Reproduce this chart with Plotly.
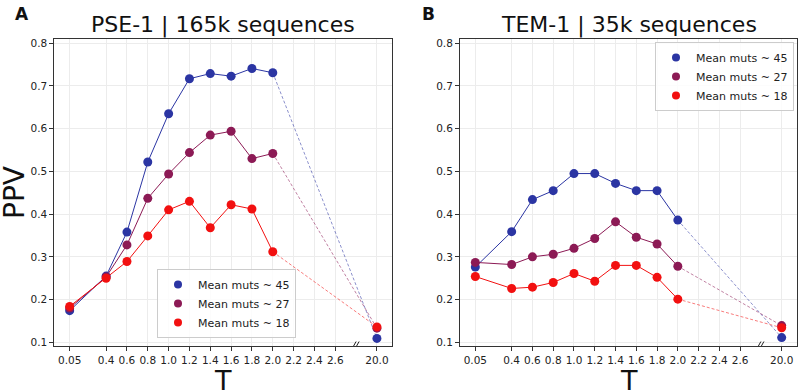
import plotly.graph_objects as go

# ---------------- data ----------------
T_values = [0.05, 0.4, 0.6, 0.8, 1.0, 1.2, 1.4, 1.6, 1.8, 2.0, 20.0]
tick_T = [0.05, 0.4, 0.6, 0.8, 1.0, 1.2, 1.4, 1.6, 1.8, 2.0, 2.2, 2.4, 2.6, 20.0]
tick_text = ["0.05", "0.4", "0.6", "0.8", "1.0", "1.2", "1.4", "1.6", "1.8", "2.0", "2.2", "2.4", "2.6", "20.0"]
y_ticks = [0.1, 0.2, 0.3, 0.4, 0.5, 0.6, 0.7, 0.8]

series_names = ["Mean muts ~ 45", "Mean muts ~ 27", "Mean muts ~ 18"]
series_colors = ["#2b35a3", "#8c1a55", "#f21010"]
series_dash_colors = ["rgba(43,53,163,0.55)", "rgba(140,26,85,0.55)", "rgba(242,16,16,0.55)"]

pse1_45 = [0.174, 0.255, 0.358, 0.522, 0.635, 0.717, 0.729, 0.723, 0.741, 0.731, 0.109]
pse1_27 = [0.180, 0.253, 0.328, 0.437, 0.494, 0.544, 0.585, 0.594, 0.530, 0.542, 0.133]
pse1_18 = [0.184, 0.250, 0.289, 0.349, 0.410, 0.430, 0.368, 0.422, 0.412, 0.312, 0.136]

tem1_45 = [0.276, 0.359, 0.434, 0.455, 0.495, 0.495, 0.472, 0.455, 0.455, 0.386, 0.111]
tem1_27 = [0.287, 0.282, 0.300, 0.306, 0.320, 0.343, 0.382, 0.346, 0.330, 0.278, 0.139]
tem1_18 = [0.254, 0.226, 0.229, 0.240, 0.261, 0.243, 0.280, 0.280, 0.252, 0.201, 0.134]

panel_titles = ["PSE-1 | 165k sequences", "TEM-1 | 35k sequences"]
panel_letters = ["A", "B"]

# broken x axis: values beyond 2.6 are drawn at position 3.0
BREAK_POS = 3.0
def xpos(t):
    return t if t <= 2.6 else BREAK_POS

FONT = "DejaVu Sans"
fig = go.Figure()

panels = [
    ("x", "y", [pse1_45, pse1_27, pse1_18], "legend"),
    ("x2", "y2", [tem1_45, tem1_27, tem1_18], "legend2"),
]
xs = [xpos(t) for t in T_values]
for xa, ya, series, leg in panels:
    for name, col, dcol, vals in zip(series_names, series_colors, series_dash_colors, series):
        # dashed connector to the T=20 point
        fig.add_trace(go.Scatter(x=xs[-2:], y=vals[-2:], mode="lines",
                                 line=dict(color=dcol, width=1, dash="3px,2px"),
                                 xaxis=xa, yaxis=ya, showlegend=False, hoverinfo="skip"))
    for name, col, dcol, vals in zip(series_names, series_colors, series_dash_colors, series):
        fig.add_trace(go.Scatter(x=xs[:-1], y=vals[:-1], mode="lines+markers",
                                 line=dict(color=col, width=1),
                                 marker=dict(color=col, size=9),
                                 xaxis=xa, yaxis=ya, showlegend=False))
        fig.add_trace(go.Scatter(x=xs[-1:], y=vals[-1:], mode="markers",
                                 marker=dict(color=col, size=9),
                                 xaxis=xa, yaxis=ya, showlegend=False))
        # legend entry (marker only)
        fig.add_trace(go.Scatter(x=[None], y=[None], mode="markers", name=name,
                                 marker=dict(color=col, size=8),
                                 xaxis=xa, yaxis=ya, legend=leg, showlegend=True))

tickvals = [xpos(t) for t in tick_T]
axis_common = dict(
    automargin=False,
    showline=True, mirror=True, linecolor="#333333", linewidth=1,
    ticks="outside", ticklen=4, tickwidth=1, tickcolor="#333333",
    showgrid=True, gridcolor="#ececec", gridwidth=0.8, zeroline=False,
    tickfont=dict(family=FONT, size=10.5, color="#222222"),
)
xcommon = dict(axis_common, range=[-0.0975, 3.1475], tickmode="array",
               tickvals=tickvals, ticktext=tick_text)
ycommon = dict(axis_common, range=[0.0913, 0.81], tickmode="array",
               tickvals=y_ticks, ticktext=[f"{v:.1f}" for v in y_ticks])

ydom = [1 - 346 / 392, 1 - 39 / 392]
fig.update_layout(
    template="none",
    width=800, height=392,
    margin=dict(l=0, r=0, t=0, b=0),
    paper_bgcolor="white", plot_bgcolor="white",
    font=dict(family=FONT, color="#111111"),
    xaxis=dict(xcommon, domain=[54.3 / 800, 392.3 / 800], anchor="y"),
    yaxis=dict(ycommon, domain=ydom, anchor="x"),
    xaxis2=dict(xcommon, domain=[460 / 800, 797 / 800], anchor="y2"),
    yaxis2=dict(ycommon, domain=ydom, anchor="x2"),
    legend=dict(x=157 / 800, y=1 - 338 / 392, xanchor="left", yanchor="bottom",
                bgcolor="rgba(255,255,255,0.85)", bordercolor="#cccccc", borderwidth=1,
                font=dict(family=FONT, size=11, color="#222222"), tracegroupgap=0),
    legend2=dict(x=794 / 800, y=1 - 42 / 392, xanchor="right", yanchor="top",
                 bgcolor="rgba(255,255,255,0.85)", bordercolor="#cccccc", borderwidth=1,
                 font=dict(family=FONT, size=11, color="#222222"), tracegroupgap=0),
    showlegend=True,
)

annotations = []
centers = [(54.3 + 392.3) / 2 / 800, (460 + 797) / 2 / 800]
letter_x = [13 / 800, 420 / 800]
for c, title, lx, letter in zip(centers, panel_titles, letter_x, panel_letters):
    annotations.append(dict(text=title, x=c, y=1 - 25 / 392, xref="paper", yref="paper",
                            xanchor="center", yanchor="middle", showarrow=False,
                            font=dict(family=FONT, size=22, color="#111111")))
    annotations.append(dict(text=f"<b>{letter}</b>", x=lx, y=1 - 14 / 392, xref="paper", yref="paper",
                            xanchor="left", yanchor="middle", showarrow=False,
                            font=dict(family=FONT, size=17, color="#111111")))
    annotations.append(dict(text="T", x=c, y=0, xref="paper", yref="paper",
                            xanchor="center", yanchor="bottom", yshift=-6, showarrow=False,
                            font=dict(family=FONT, size=27, color="#111111")))
annotations.append(dict(text="PPV", x=0, y=(ydom[0] + ydom[1]) / 2, xref="paper", yref="paper",
                        xanchor="left", yanchor="middle", xshift=-4, showarrow=False, textangle=-90,
                        font=dict(family=FONT, size=28, color="#111111")))
fig.update_layout(annotations=annotations)

# break marks "//" on the bottom spines
shapes = []
for xa, ya in [("x", "y"), ("x2", "y2")]:
    for off in (-2.5, 0.5):
        shapes.append(dict(type="line", xref=xa, yref=ya, xsizemode="pixel", ysizemode="pixel",
                           xanchor=2.8, yanchor=0.0913, x0=off - 2.5, x1=off + 2.5, y0=-4.5, y1=4.5,
                           line=dict(color="#222222", width=1)))
fig.update_layout(shapes=shapes)

fig.write_html("out.html", config={"displayModeBar": False},
               post_script="document.body.style.margin='0';document.body.style.overflow='hidden';")
